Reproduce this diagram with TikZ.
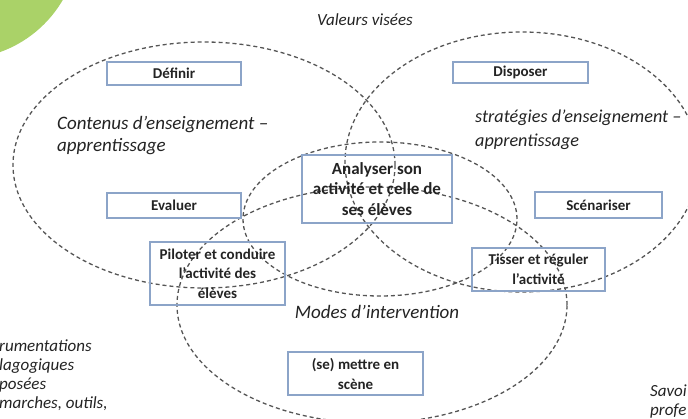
\documentclass[tikz,border=0pt]{standalone}
\usepackage{fontspec}
\setmainfont{Carlito}
\usetikzlibrary{shapes.geometric}
\definecolor{leafgreen}{RGB}{170,210,104}
\definecolor{boxc}{RGB}{140,164,200}
\definecolor{dashc}{RGB}{85,85,85}
\definecolor{txtc}{RGB}{35,35,35}
\tikzset{
  venn/.style={draw=dashc, line width=1.3pt, dash pattern=on 4pt off 3pt},
  stepbox/.style={draw=boxc, line width=1.1pt, inner sep=0pt, align=center, text=txtc,
    font=\fontsize{15}{20}\selectfont\bfseries},
  lab/.style={inner sep=0pt, text=txtc, font=\fontsize{19}{22}\selectfont\itshape},
  smalllab/.style={inner sep=0pt, text=txtc, font=\fontsize{17}{19}\selectfont\itshape}
}
\begin{document}
\begin{tikzpicture}[x=1pt,y=-1pt]
\useasboundingbox (0,0) rectangle (688,419);
\clip (0,0) rectangle (688,419);
% green corner
\fill[leafgreen] (-40,-60) circle (119pt);
% ellipses
\draw[venn] (204,165) ellipse [x radius=191pt, y radius=123pt];
\draw[venn] (522,162) ellipse [x radius=177pt, y radius=130pt];
\draw[venn] (380,219) ellipse [x radius=137pt, y radius=77pt];
\draw[venn] (372,305) ellipse [x radius=195pt, y radius=118pt];
% boxes
\node[stepbox, minimum width=134pt, minimum height=23pt] (definir) at (174,73.5) {Définir};
\node[stepbox, minimum width=135pt, minimum height=21pt] (disposer) at (520.5,72.5) {Disposer};
\node[stepbox, minimum width=134pt, minimum height=25pt] (evaluer) at (174,205.5) {Evaluer};
\node[stepbox, minimum width=127pt, minimum height=26pt] (scenariser) at (598.5,205) {Scénariser};
\node[stepbox, minimum width=150pt, minimum height=68pt, font=\fontsize{17}{20.5}\selectfont\bfseries] (analyser) at (377,189) {Analyser son\\activité et celle de\\ses élèves};
\node[stepbox, minimum width=135pt, minimum height=63pt, font=\fontsize{15}{19.5}\selectfont\bfseries] (piloter) at (217.5,273.5) {Piloter et conduire\\l’activité des\\élèves};
\node[stepbox, minimum width=133pt, minimum height=43pt] (tisser) at (538.5,269.5) {Tisser et réguler\\l’activité};
\node[stepbox, minimum width=135pt, minimum height=43pt] (mettre) at (355.5,373.5) {(se) mettre en\\scène};
% labels
\node[smalllab, anchor=base] (valeurs) at (365,26) {Valeurs visées};
\node[lab, anchor=base west] (contenus1) at (57,130) {Contenus d’enseignement –};
\node[lab, anchor=base west] (contenus2) at (57,152) {apprentissage};
\node[lab, anchor=base west, font=\fontsize{18.2}{22}\selectfont\itshape] (strat1) at (475,123) {stratégies d’enseignement –};
\node[lab, anchor=base west, font=\fontsize{18.2}{22}\selectfont\itshape] (strat2) at (475,147) {apprentissage};
\node[lab, anchor=base] (modes) at (377,319) {Modes d’intervention};
\node[smalllab, anchor=base west] (instr1) at (-1,352) {rumentations};
\node[smalllab, anchor=base west] (instr2) at (-1,371) {lagogiques};
\node[smalllab, anchor=base west] (instr3) at (-1,390) {posées};
\node[smalllab, anchor=base west] (instr4) at (-1,408) {marches, outils,};
\node[smalllab, anchor=base west] (sav1) at (650,397) {Savoi};
\node[smalllab, anchor=base west] (sav2) at (650,415) {profe};
\end{tikzpicture}
\end{document}
